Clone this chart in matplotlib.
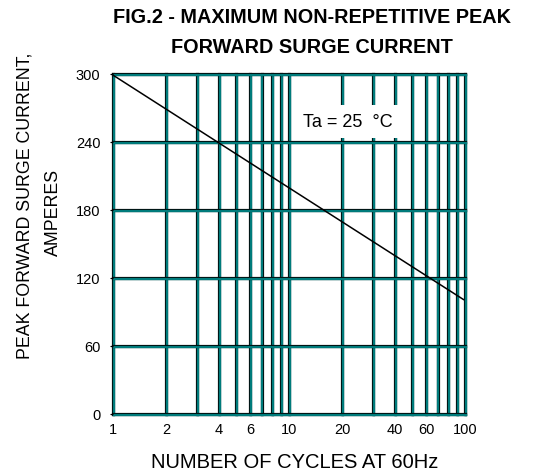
import matplotlib
matplotlib.use("Agg")
import matplotlib.pyplot as plt
import matplotlib.patheffects as pe

plt.rcParams['font.family'] = ['Liberation Sans', 'DejaVu Sans']

# surge curve (log x)
cycles = [1, 98]
current = [299, 101]

x_grid = [1, 2, 3, 4, 5, 6, 7, 8, 9, 10, 20, 30, 40, 50, 60, 70, 80, 90, 100]
x_labels = [1, 2, 4, 6, 10, 20, 40, 60, 100]
y_grid = [0, 60, 120, 180, 240, 300]

teal = '#007b7b'
grid_fx = [pe.Stroke(linewidth=2.3, foreground='black'),
           pe.Stroke(offset=(0.5, -0.5), linewidth=1.7, foreground=teal)]

fig = plt.figure(figsize=(5.52, 4.77), dpi=100)
ax = fig.add_axes([0.2047, 0.13, 0.6377, 0.7128])
ax.set_xscale('log')
ax.set_xlim(1, 100)
ax.set_ylim(0, 300)

for x in x_grid:
    ax.axvline(x, color=teal, lw=1.7, zorder=1, clip_on=False, path_effects=grid_fx)
for y in y_grid:
    ax.axhline(y, color=teal, lw=1.7, zorder=1, clip_on=False, path_effects=grid_fx)

ax.plot(cycles, current, color='black', lw=1.1, zorder=3)

for s in ax.spines.values():
    s.set_visible(False)

ax.set_xticks(x_labels)
ax.set_xticklabels([str(v) for v in x_labels])
ax.xaxis.set_minor_locator(matplotlib.ticker.NullLocator())
ax.set_yticks(y_grid)
ax.tick_params(axis='x', length=0, pad=6, labelsize=10.5)
ax.tick_params(axis='y', length=2, pad=7, labelsize=10.5)

ax.text(21.5, 258, 'Ta = 25  °C', fontsize=13, ha='center', va='center', zorder=4,
        bbox=dict(boxstyle='square,pad=0.45', fc='white', ec='none'))

fig.text(0.565, 0.964, 'FIG.2 - MAXIMUM NON-REPETITIVE PEAK', fontsize=14.3,
         fontweight='bold', ha='center', va='center')
fig.text(0.565, 0.901, 'FORWARD SURGE CURRENT', fontsize=14.3,
         fontweight='bold', ha='center', va='center')

fig.text(25 / 552, 1 - 206 / 477, 'PEAK FORWARD SURGE CURRENT,', fontsize=12.8,
         rotation=90, ha='center', va='center')
fig.text(53 / 552, 1 - 212 / 477, 'AMPERES', fontsize=12.8,
         rotation=90, ha='center', va='center')
fig.text(295 / 552, 1 - 463 / 477, 'NUMBER OF CYCLES AT 60Hz', fontsize=14.5,
         ha='center', va='center')

fig.savefig('out.png', dpi=100)
